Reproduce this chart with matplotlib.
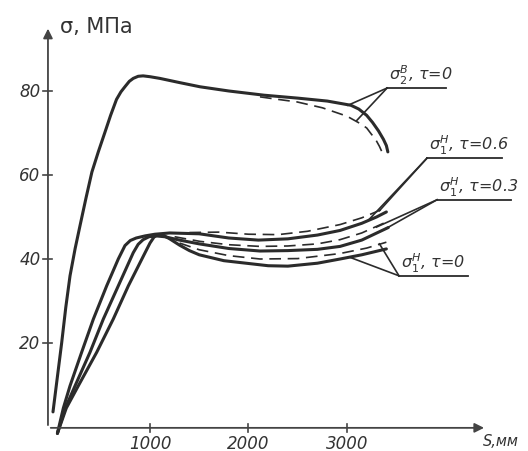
import numpy as np
import matplotlib
matplotlib.use('Agg')
from matplotlib import pyplot as plt

# upper curve sigma_2^B, tau=0 (solid) and its dashed twin
s2_S = [15, 60, 103, 145, 188, 240, 290, 350, 410, 475, 540, 600, 660, 705, 745,
        790, 830, 880, 930, 1000, 1100, 1300, 1508, 1800, 2157, 2500, 2800, 3040,
        3120, 3200, 3260, 3320, 3370, 3400, 3415]
s2_sig = [3.6, 12, 20, 28.5, 36, 42.5, 48, 54.5, 60.7, 65.5, 70, 74.2, 78, 79.8, 81,
          82.3, 83, 83.5, 83.6, 83.4, 83, 82, 81, 80, 79, 78.3, 77.6, 76.6,
          75.7, 74.2, 72.5, 70.5, 68.5, 67, 65.5]
s2d_S = [2117, 2300, 2492, 2750, 3000, 3130, 3200, 3245, 3290, 3330, 3355]
s2d_sig = [78.6, 78, 77.4, 76, 74, 72.3, 71.2, 69.8, 68.5, 66.8, 65.5]

# lower curves sigma_1^H for tau = 0.6, 0.3, 0
t06_S = [60, 120, 188, 306, 425, 560, 678, 746, 800, 860, 950, 1050, 1200, 1500,
         1800, 2100, 2400, 2700, 2930, 3150, 3300, 3400]
t06_sig = [-1.5, 4.5, 9.8, 17.8, 25.7, 33.6, 40, 43.2, 44.4, 45.0, 45.5, 45.9, 46.2, 46,
           45, 44.5, 44.8, 45.7, 46.8, 48.5, 50, 51.2]
t06d_S = [1400, 1700, 2000, 2300, 2600, 2930, 3150, 3365]
t06d_sig = [46.3, 46.4, 45.9, 45.8, 46.6, 48.2, 49.8, 51.9]

t03_S = [60, 140, 239, 391, 526, 678, 830, 880, 930, 990, 1060, 1150, 1300, 1500,
         1800, 2117, 2400, 2700, 2930, 3150, 3420]
t03_sig = [-1.5, 4.5, 9.8, 17.8, 25.7, 33.6, 41.5, 43.5, 44.6, 45.3, 45.5, 45.3, 44.5,
           43.6, 42.5, 41.9, 42, 42.3, 43, 44.5, 47.5]
t03d_S = [1250, 1507, 1800, 2117, 2400, 2700, 2929, 3150, 3380]
t03d_sig = [45.3, 44.2, 43.4, 43.0, 43.1, 43.6, 44.6, 46.2, 48.6]

t0_S = [60, 150, 272, 459, 627, 780, 950, 1000, 1040, 1080, 1130, 1200, 1300, 1400,
        1500, 1750, 2200, 2400, 2700, 2930, 3150, 3400]
t0_sig = [-1.5, 4.5, 9.8, 17.8, 25.7, 33.6, 41.5, 43.8, 45.2, 45.8, 45.7, 44.8, 43.3, 42,
          41, 39.6, 38.4, 38.3, 39, 40, 41, 42.4]
t0d_S = [1300, 1500, 1800, 2117, 2500, 2929, 3200, 3400]
t0d_sig = [43.8, 42.2, 40.8, 40.0, 40.1, 41.3, 42.6, 44.0]

x_ticks = [1000, 2000, 3000]
y_ticks = [20, 40, 60, 80]

# callout labels: text, underline start/end S, underline sigma, leader targets
labels = [
    (r'$\sigma_2^{В}$, $\tau$=0', 3407, 4005, 80.7, [(3010, 76.6), (3100, 73.0)]),
    (r'$\sigma_1^{Н}$, $\tau$=0.6', 3812, 4574, 64.0, [(3220, 49.3), (3330, 51.5)]),
    (r'$\sigma_1^{Н}$, $\tau$=0.3', 3914, 4665, 54.1, [(3300, 47.6), (3400, 47.3)]),
    (r'$\sigma_1^{Н}$, $\tau$=0', 3528, 4228, 36.0, [(3030, 40.4), (3330, 43.6)]),
]

ink = '#2b2b2b'
fig = plt.figure(figsize=(5.28, 4.52), dpi=100)
ax = fig.add_axes([0, 0, 1, 1])
ax.set_xlim(-523, 4838)
ax.set_ylim(-5.71, 101.9)
ax.axis('off')

# axes with arrows
ax.annotate('', xy=(4420, -0.2), xytext=(-36, -0.2),
            arrowprops=dict(arrowstyle='-|>', color='#444444', lw=1.3,
                            mutation_scale=14))
ax.annotate('', xy=(-36, 95.5), xytext=(-36, -0.2),
            arrowprops=dict(arrowstyle='-|>', color='#444444', lw=1.3,
                            mutation_scale=14))
for t in x_ticks:
    ax.plot([t, t], [-1.2, 0.8], color='#444444', lw=1.2)
    ax.text(t, -3.8, str(t), ha='center', va='center', fontsize=12,
            style='italic', color='#333333')
for t in y_ticks:
    ax.plot([-90, 10], [t, t], color='#444444', lw=1.2)
    ax.text(-110, t, str(t), ha='right', va='center', fontsize=12,
            style='italic', color='#333333')
ax.text(86, 95.5, 'σ, МПа', ha='left', va='center', fontsize=15, color='#333333')
ax.text(4380, -3.3, 'S,мм', ha='left', va='center', fontsize=10.5,
        style='italic', color='#333333')

# curves
for xs, ys in [(s2_S, s2_sig), (t06_S, t06_sig), (t03_S, t03_sig), (t0_S, t0_sig)]:
    ax.plot(xs, ys, color=ink, lw=2.2, solid_capstyle='round', solid_joinstyle='round')
for xs, ys in [(s2d_S, s2d_sig), (t06d_S, t06d_sig), (t03d_S, t03d_sig), (t0d_S, t0d_sig)]:
    ax.plot(xs, ys, color=ink, lw=1.2, dashes=(7, 4))

# callouts
for text, x0, x1, yl, targets in labels:
    ax.plot([x0, x1], [yl, yl], color=ink, lw=1.3)
    for tx, ty in targets:
        ax.plot([x0, tx], [yl, ty], color=ink, lw=1.2)
    ax.text(x0 + 20, yl + 0.5, text, ha='left', va='bottom', fontsize=11.5,
            style='italic', color='#333333')

fig.savefig('out.png', dpi=100, facecolor='white')
